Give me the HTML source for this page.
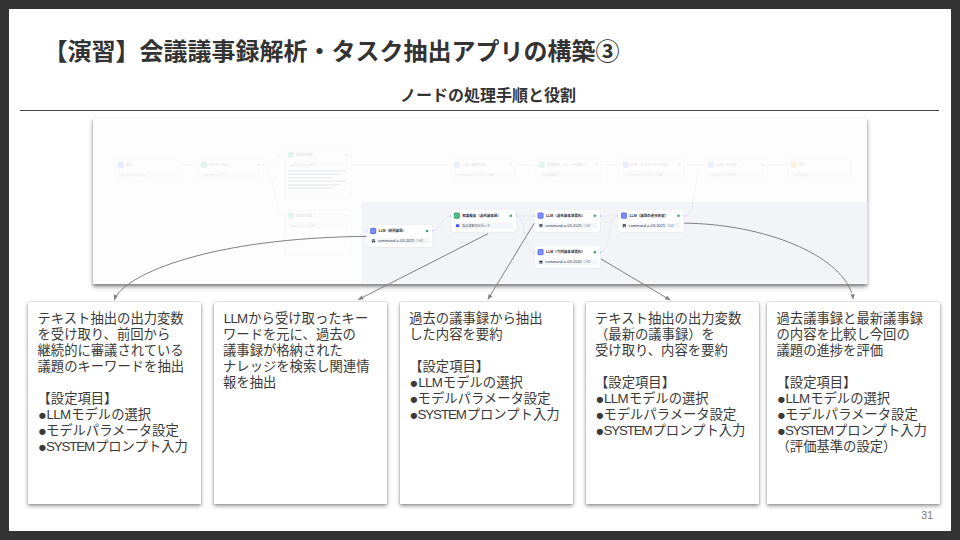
<!DOCTYPE html>
<html lang="ja">
<head>
<meta charset="utf-8">
<title>【演習】会議議事録解析・タスク抽出アプリの構築③</title>
<style>
html,body{margin:0;padding:0;}
body{width:960px;height:540px;background:#333333;position:relative;overflow:hidden;
  font-family:"Liberation Sans","Noto Sans CJK JP",sans-serif;color:#333;}
#slide{position:absolute;left:9px;top:9px;width:942px;height:522px;background:#fff;}
#title{position:absolute;left:43.5px;top:34px;height:36px;line-height:36px;font-size:24px;font-weight:bold;white-space:nowrap;color:#333;}
#sub{position:absolute;left:400px;top:84px;height:24px;line-height:24px;font-size:16px;font-weight:bold;white-space:nowrap;color:#333;}
#rule{position:absolute;left:20px;top:109.8px;width:919px;height:1.2px;background:#444;}
#shot{position:absolute;left:92.8px;top:117.6px;width:774.3px;height:166.3px;background:#fdfdfd;box-shadow:0 2px 2.5px rgba(0,0,0,.3),0 3px 5px rgba(0,0,0,.3);}
.card{position:absolute;top:301.5px;width:173.3px;height:202.4px;background:#fff;box-shadow:0 2px 4px rgba(0,0,0,.42), 0 0 1px rgba(0,0,0,.35);box-sizing:border-box;
  padding:9.5px 0 0 9.8px;font-size:13.33px;line-height:16px;color:#3a3a3a;white-space:pre;}
.card .b{display:inline-block;width:8.4px;font-size:14.67px;line-height:0;position:relative;top:1px;left:0.4px;}
.card .l1,.card .l2{display:inline-block;font-size:13.33px;white-space:nowrap;}
.card .l1{width:24.6px;padding-left:.7px;letter-spacing:-.7px;}
.card .l2{width:49.1px;letter-spacing:-1.12px;}
#pg{position:absolute;left:915px;top:507px;width:18px;text-align:right;font-size:10.5px;line-height:16px;color:#777;}
#arrows{position:absolute;left:0;top:0;}
</style>
</head>
<body>
<div id="slide"></div>
<div id="title">【演習】会議議事録解析・タスク抽出アプリの構築③</div>
<div id="sub">ノードの処理手順と役割</div>
<div id="rule"></div>
<div id="shot"></div>
<div class="card" style="left:27.7px">テキスト抽出の出力変数
を受け取り、前回から
継続的に審議されている
議題のキーワードを抽出

【設定項目】
<span class="b">●</span><span class="l1">LLM</span>モデルの選択
<span class="b">●</span>モデルパラメータ設定
<span class="b">●</span><span class="l2">SYSTEM</span>プロンプト入力</div>
<div class="card" style="left:214.1px;width:172.6px;padding-left:8.9px"><span class="l1">LLM</span>から受け取ったキー
ワードを元に、過去の
議事録が格納された
ナレッジを検索し関連情
報を抽出</div>
<div class="card" style="left:400px;padding-left:9.2px">過去の議事録から抽出
した内容を要約

【設定項目】
<span class="b">●</span><span class="l1">LLM</span>モデルの選択
<span class="b">●</span>モデルパラメータ設定
<span class="b">●</span><span class="l2">SYSTEM</span>プロンプト入力</div>
<div class="card" style="left:586px;padding-left:9.0px">テキスト抽出の出力変数
（最新の議事録）を
受け取り、内容を要約

【設定項目】
<span class="b">●</span><span class="l1">LLM</span>モデルの選択
<span class="b">●</span>モデルパラメータ設定
<span class="b">●</span><span class="l2">SYSTEM</span>プロンプト入力</div>
<div class="card" style="left:766.7px">過去議事録と最新議事録
の内容を比較し今回の
議題の進捗を評価

【設定項目】
<span class="b">●</span><span class="l1">LLM</span>モデルの選択
<span class="b">●</span>モデルパラメータ設定
<span class="b">●</span><span class="l2">SYSTEM</span>プロンプト入力
（評価基準の設定）</div>
<div id="pg">31</div>
<svg id="arrows" width="960" height="540" viewBox="0 0 960 540">
<g id="wf">
<rect x="361.5" y="202" width="506" height="81" fill="#f2f4f7"/>
<g opacity="0.11">
<rect x="114.8" y="159" width="63" height="22" rx="2" fill="#fff" stroke="#b8bfcc" stroke-width="0.4"/>
<rect x="117.6" y="161.8" width="6" height="6" rx="1.5" fill="#2970ff"/>
<text x="125.8" y="166" font-size="3.3" font-weight="bold" fill="#1d2939" font-family="Liberation Sans, Noto Sans CJK JP, sans-serif">開始</text>
<rect x="117.6" y="171.6" width="57.4" height="5.8" rx="1" fill="#e4e7ec"/>
<text x="120.8" y="175.7" font-size="3.1" fill="#344054" font-family="Liberation Sans, Noto Sans CJK JP, sans-serif">txt_minutes  String</text>
<rect x="198" y="159" width="65" height="23.5" rx="2" fill="#fff" stroke="#b8bfcc" stroke-width="0.4"/>
<rect x="200.8" y="161.8" width="6" height="6" rx="1.5" fill="#12b76a"/>
<text x="209" y="166" font-size="3.3" font-weight="bold" fill="#1d2939" font-family="Liberation Sans, Noto Sans CJK JP, sans-serif">テキスト抽出</text>
<circle cx="258.5" cy="164.8" r="1.2" fill="#17b26a"/>
<rect x="200.8" y="171.6" width="59.4" height="5.8" rx="1" fill="#e4e7ec"/>
<text x="204" y="175.7" font-size="3.1" fill="#344054" font-family="Liberation Sans, Noto Sans CJK JP, sans-serif">txt_minutes  File</text>
<rect x="285" y="149" width="66" height="49.5" rx="2" fill="#fff" stroke="#b8bfcc" stroke-width="0.4"/>
<rect x="287.8" y="151.8" width="6" height="6" rx="1.5" fill="#12b76a"/>
<text x="296" y="156" font-size="3.3" font-weight="bold" fill="#1d2939" font-family="Liberation Sans, Noto Sans CJK JP, sans-serif">質問分類器</text>
<circle cx="346.5" cy="154.8" r="1.2" fill="#17b26a"/>
<rect x="287.8" y="161.6" width="60.4" height="5.8" rx="1" fill="#e4e7ec"/>
<text x="291" y="165.7" font-size="3.1" fill="#344054" font-family="Liberation Sans, Noto Sans CJK JP, sans-serif">gpt-4o-mini CHAT</text>
<rect x="285" y="210" width="66" height="45" rx="2" fill="#fff" stroke="#b8bfcc" stroke-width="0.4"/>
<rect x="287.8" y="212.8" width="6" height="6" rx="1.5" fill="#12b76a"/>
<text x="296" y="217" font-size="3.3" font-weight="bold" fill="#1d2939" font-family="Liberation Sans, Noto Sans CJK JP, sans-serif">質問分類器 2</text>
<circle cx="346.5" cy="215.8" r="1.2" fill="#17b26a"/>
<rect x="287.8" y="222.6" width="60.4" height="5.8" rx="1" fill="#e4e7ec"/>
<text x="291" y="226.7" font-size="3.1" fill="#344054" font-family="Liberation Sans, Noto Sans CJK JP, sans-serif">gpt-4o-mini CHAT</text>
<rect x="451" y="159" width="64" height="22" rx="2" fill="#fff" stroke="#b8bfcc" stroke-width="0.4"/>
<rect x="453.8" y="161.8" width="6" height="6" rx="1.5" fill="#6172f3"/>
<text x="462" y="166" font-size="3.3" font-weight="bold" fill="#1d2939" font-family="Liberation Sans, Noto Sans CJK JP, sans-serif">LLM（議題抽出）</text>
<circle cx="510.5" cy="164.8" r="1.2" fill="#17b26a"/>
<rect x="453.8" y="171.6" width="58.4" height="5.8" rx="1" fill="#e4e7ec"/>
<text x="457" y="175.7" font-size="3.1" fill="#344054" font-family="Liberation Sans, Noto Sans CJK JP, sans-serif">command-a-03-2025 CHAT</text>
<rect x="536" y="159" width="65" height="22" rx="2" fill="#fff" stroke="#b8bfcc" stroke-width="0.4"/>
<rect x="538.8" y="161.8" width="6" height="6" rx="1.5" fill="#12b76a"/>
<text x="547" y="166" font-size="3.3" font-weight="bold" fill="#1d2939" font-family="Liberation Sans, Noto Sans CJK JP, sans-serif">知識検索（ナレッジ検索）</text>
<circle cx="596.5" cy="164.8" r="1.2" fill="#17b26a"/>
<rect x="538.8" y="171.6" width="59.4" height="5.8" rx="1" fill="#e4e7ec"/>
<text x="542" y="175.7" font-size="3.1" fill="#344054" font-family="Liberation Sans, Noto Sans CJK JP, sans-serif">製品議事録</text>
<rect x="619.6" y="159" width="64.5" height="22" rx="2" fill="#fff" stroke="#b8bfcc" stroke-width="0.4"/>
<rect x="622.4" y="161.8" width="6" height="6" rx="1.5" fill="#6172f3"/>
<text x="630.6" y="166" font-size="3.3" font-weight="bold" fill="#1d2939" font-family="Liberation Sans, Noto Sans CJK JP, sans-serif">LLM（タスクリスト生成）</text>
<circle cx="679.6" cy="164.8" r="1.2" fill="#17b26a"/>
<rect x="622.4" y="171.6" width="58.9" height="5.8" rx="1" fill="#e4e7ec"/>
<text x="625.6" y="175.7" font-size="3.1" fill="#344054" font-family="Liberation Sans, Noto Sans CJK JP, sans-serif">command-a-03-2025 CHAT</text>
<rect x="705" y="159" width="62.5" height="22" rx="2" fill="#fff" stroke="#b8bfcc" stroke-width="0.4"/>
<rect x="707.8" y="161.8" width="6" height="6" rx="1.5" fill="#6172f3"/>
<text x="716" y="166" font-size="3.3" font-weight="bold" fill="#1d2939" font-family="Liberation Sans, Noto Sans CJK JP, sans-serif">LLM（まとめ）</text>
<circle cx="763.0" cy="164.8" r="1.2" fill="#17b26a"/>
<rect x="707.8" y="171.6" width="56.9" height="5.8" rx="1" fill="#e4e7ec"/>
<text x="711" y="175.7" font-size="3.1" fill="#344054" font-family="Liberation Sans, Noto Sans CJK JP, sans-serif">gpt-4o-mini CHAT</text>
<rect x="788" y="159" width="63" height="22" rx="2" fill="#fff" stroke="#b8bfcc" stroke-width="0.4"/>
<rect x="790.8" y="161.8" width="6" height="6" rx="1.5" fill="#f79009"/>
<text x="799" y="166" font-size="3.3" font-weight="bold" fill="#1d2939" font-family="Liberation Sans, Noto Sans CJK JP, sans-serif">終了</text>
<rect x="790.8" y="171.6" width="57.4" height="5.8" rx="1" fill="#e4e7ec"/>
<text x="794" y="175.7" font-size="3.1" fill="#344054" font-family="Liberation Sans, Noto Sans CJK JP, sans-serif">text  String</text>
<rect x="288" y="170.0" width="58" height="1.4" fill="#667085"/>
<rect x="288" y="173.5" width="52" height="1.4" fill="#667085"/>
<rect x="288" y="177.0" width="46" height="1.4" fill="#667085"/>
<rect x="288" y="180.5" width="58" height="1.4" fill="#667085"/>
<rect x="288" y="184.0" width="52" height="1.4" fill="#667085"/>
<rect x="288" y="187.5" width="46" height="1.4" fill="#667085"/>
<g fill="none" stroke="#98a2b3" stroke-width="0.6">
<path d="M694 197 C697 180 697 165 705 165"/>
<path d="M177.8 165 H198"/><path d="M263 165 C275 165 273 155 285 155"/><path d="M263 165 C275 165 273 216 285 216"/>
<path d="M351 165 H451"/><path d="M515 165 H536"/><path d="M601 165 H619.6"/><path d="M684 165 H705"/><path d="M767.5 165 H788"/>
</g>
</g>
<g fill="none" stroke="#dfe2e9" stroke-width="0.7">
<path d="M432.3 231 C442 231 441 216 451 216"/>
<path d="M516 216 H534.5"/>
<path d="M516 216 C527 216 523 252.5 534.5 252.5"/>
<path d="M600.2 216 H618"/>
<path d="M600.2 252.5 C611 252.5 607 216 618 216"/>
<path d="M683.8 216 C693 216 692 204 694 197" />
</g>
<g stroke="#2970ff" stroke-width="0.5" opacity="0.5">
<path d="M432.6 229.9 V232.1"/>
<path d="M450.6 214.9 V217.1"/>
<path d="M516.4 214.9 V217.1"/>
<path d="M534.2 214.9 V217.1"/>
<path d="M534.2 251.4 V253.6"/>
<path d="M600.6 214.9 V217.1"/>
<path d="M600.6 251.4 V253.6"/>
<path d="M617.8 214.9 V217.1"/>
<path d="M684.1 214.9 V217.1"/>
<path d="M366.9 229.9 V232.1"/>
</g>
<rect x="366.90000000000003" y="224.8" width="65.8" height="23" rx="2.4" fill="#101828" opacity="0.05"/>
<rect x="367.3" y="225" width="65" height="22" rx="2.2" fill="#ffffff"/>
<rect x="370.1" y="227.8" width="6.1" height="6.1" rx="1.6" fill="#6172f3"/>
<rect x="371.8" y="229.5" width="2.7" height="2.7" rx="0.7" fill="none" stroke="#ffffff" stroke-width="0.5" opacity="0.75"/>
<text x="378.6" y="232.05" font-size="3.4" font-weight="bold" fill="#1d2939" textLength="27" lengthAdjust="spacingAndGlyphs" font-family="Liberation Sans, Noto Sans CJK JP, sans-serif">LLM（前回議題）</text>
<circle cx="427.1" cy="230.9" r="1.25" fill="#3f9e6e"/>
<rect x="370.1" y="238" width="59.2" height="5.9" rx="1" fill="#f5f6f9"/>
<path d="M372.0 239.4 h3 v1.2 h-3 z M371.7 241 h3.6 v0.5 h-3.6 z M372.2 241.6 h0.9 v0.9 h-0.9 z M373.90000000000003 241.6 h0.9 v0.9 h-0.9 z" fill="#1d2939"/>
<text x="377.90000000000003" y="242.1" font-size="3.6" fill="#344054" textLength="36.5" lengthAdjust="spacingAndGlyphs" font-family="Liberation Sans, Noto Sans CJK JP, sans-serif">command-a-03-2025</text>
<text x="416.1" y="241.9" font-size="2.6" fill="#98a2b3" textLength="7.5" lengthAdjust="spacingAndGlyphs" font-family="Liberation Sans, Noto Sans CJK JP, sans-serif">CHAT</text>
<rect x="450.6" y="209.60000000000002" width="65.8" height="23" rx="2.4" fill="#101828" opacity="0.05"/>
<rect x="451" y="209.8" width="65" height="22" rx="2.2" fill="#ffffff"/>
<rect x="453.8" y="212.60000000000002" width="6.1" height="6.1" rx="1.6" fill="#2fa96b"/>
<rect x="455.5" y="214.3" width="2.7" height="2.7" rx="0.7" fill="none" stroke="#ffffff" stroke-width="0.5" opacity="0.75"/>
<text x="462.3" y="216.85000000000002" font-size="3.4" font-weight="bold" fill="#1d2939" textLength="38.5" lengthAdjust="spacingAndGlyphs" font-family="Liberation Sans, Noto Sans CJK JP, sans-serif">知識検索（過去議事録）</text>
<circle cx="510.8" cy="215.70000000000002" r="1.25" fill="#3f9e6e"/>
<rect x="453.8" y="222.8" width="59.2" height="5.9" rx="1" fill="#f5f6f9"/>
<rect x="456" y="224.3" width="3.2" height="2.8" rx="0.5" fill="#444ce7"/>
<text x="462" y="226.9" font-size="3.3" fill="#667085" textLength="28" lengthAdjust="spacingAndGlyphs" font-family="Liberation Sans, Noto Sans CJK JP, sans-serif">製品議事録会社メモ</text>
<rect x="534.3000000000001" y="209.60000000000002" width="66.2" height="23" rx="2.4" fill="#101828" opacity="0.05"/>
<rect x="534.7" y="209.8" width="65.4" height="22" rx="2.2" fill="#ffffff"/>
<rect x="537.5" y="212.60000000000002" width="6.1" height="6.1" rx="1.6" fill="#6172f3"/>
<rect x="539.2" y="214.3" width="2.7" height="2.7" rx="0.7" fill="none" stroke="#ffffff" stroke-width="0.5" opacity="0.75"/>
<text x="546.0" y="216.85000000000002" font-size="3.4" font-weight="bold" fill="#1d2939" textLength="39" lengthAdjust="spacingAndGlyphs" font-family="Liberation Sans, Noto Sans CJK JP, sans-serif">LLM（過去議事録要約）</text>
<circle cx="594.9" cy="215.70000000000002" r="1.25" fill="#3f9e6e"/>
<rect x="537.5" y="222.8" width="59.60000000000001" height="5.9" rx="1" fill="#f5f6f9"/>
<path d="M539.4000000000001 224.20000000000002 h3 v1.2 h-3 z M539.1 225.8 h3.6 v0.5 h-3.6 z M539.6 226.4 h0.9 v0.9 h-0.9 z M541.3000000000001 226.4 h0.9 v0.9 h-0.9 z" fill="#1d2939"/>
<text x="545.3000000000001" y="226.9" font-size="3.6" fill="#344054" textLength="36.5" lengthAdjust="spacingAndGlyphs" font-family="Liberation Sans, Noto Sans CJK JP, sans-serif">command-a-03-2025</text>
<text x="583.5" y="226.70000000000002" font-size="2.6" fill="#98a2b3" textLength="7.5" lengthAdjust="spacingAndGlyphs" font-family="Liberation Sans, Noto Sans CJK JP, sans-serif">CHAT</text>
<rect x="534.3000000000001" y="246.10000000000002" width="66.2" height="23" rx="2.4" fill="#101828" opacity="0.05"/>
<rect x="534.7" y="246.3" width="65.4" height="22" rx="2.2" fill="#ffffff"/>
<rect x="537.5" y="249.10000000000002" width="6.1" height="6.1" rx="1.6" fill="#6172f3"/>
<rect x="539.2" y="250.8" width="2.7" height="2.7" rx="0.7" fill="none" stroke="#ffffff" stroke-width="0.5" opacity="0.75"/>
<text x="546.0" y="253.35000000000002" font-size="3.4" font-weight="bold" fill="#1d2939" textLength="39" lengthAdjust="spacingAndGlyphs" font-family="Liberation Sans, Noto Sans CJK JP, sans-serif">LLM（今回議事録要約）</text>
<circle cx="594.9" cy="252.20000000000002" r="1.25" fill="#3f9e6e"/>
<rect x="537.5" y="259.3" width="59.60000000000001" height="5.9" rx="1" fill="#f5f6f9"/>
<path d="M539.4000000000001 260.7 h3 v1.2 h-3 z M539.1 262.3 h3.6 v0.5 h-3.6 z M539.6 262.90000000000003 h0.9 v0.9 h-0.9 z M541.3000000000001 262.90000000000003 h0.9 v0.9 h-0.9 z" fill="#1d2939"/>
<text x="545.3000000000001" y="263.40000000000003" font-size="3.6" fill="#344054" textLength="36.5" lengthAdjust="spacingAndGlyphs" font-family="Liberation Sans, Noto Sans CJK JP, sans-serif">command-a-03-2025</text>
<text x="583.5" y="263.2" font-size="2.6" fill="#98a2b3" textLength="7.5" lengthAdjust="spacingAndGlyphs" font-family="Liberation Sans, Noto Sans CJK JP, sans-serif">CHAT</text>
<rect x="617.7" y="209.60000000000002" width="66.39999999999999" height="23" rx="2.4" fill="#101828" opacity="0.05"/>
<rect x="618.1" y="209.8" width="65.6" height="22" rx="2.2" fill="#ffffff"/>
<rect x="620.9" y="212.60000000000002" width="6.1" height="6.1" rx="1.6" fill="#6172f3"/>
<rect x="622.6" y="214.3" width="2.7" height="2.7" rx="0.7" fill="none" stroke="#ffffff" stroke-width="0.5" opacity="0.75"/>
<text x="629.4" y="216.85000000000002" font-size="3.4" font-weight="bold" fill="#1d2939" textLength="39" lengthAdjust="spacingAndGlyphs" font-family="Liberation Sans, Noto Sans CJK JP, sans-serif">LLM（議題の進捗判定）</text>
<circle cx="678.5" cy="215.70000000000002" r="1.25" fill="#3f9e6e"/>
<rect x="620.9" y="222.8" width="59.8" height="5.9" rx="1" fill="#f5f6f9"/>
<path d="M622.8000000000001 224.20000000000002 h3 v1.2 h-3 z M622.5 225.8 h3.6 v0.5 h-3.6 z M623.0 226.4 h0.9 v0.9 h-0.9 z M624.7 226.4 h0.9 v0.9 h-0.9 z" fill="#1d2939"/>
<text x="628.7" y="226.9" font-size="3.6" fill="#344054" textLength="36.5" lengthAdjust="spacingAndGlyphs" font-family="Liberation Sans, Noto Sans CJK JP, sans-serif">command-a-03-2025</text>
<text x="666.9" y="226.70000000000002" font-size="2.6" fill="#98a2b3" textLength="7.5" lengthAdjust="spacingAndGlyphs" font-family="Liberation Sans, Noto Sans CJK JP, sans-serif">CHAT</text>
</g>
<g id="ar">
<g fill="none" stroke="#808080" stroke-width="1">
<path d="M366.40 236.35 C210.35 237.99 128.27 273.48 115.54 297.44"/>
<path d="M488.1 233.6 L361.51 297.96"/>
<path d="M534.2 223.3 L489.84 296.16"/>
<path d="M600.9 258.9 L667.13 298.20"/>
<path d="M684.20 223.10 C766.45 224.32 838.72 255.14 851.58 292.81"/>
</g>
<path d="M114.20 300.75 L113.70 294.60 L117.75 295.71 Z" fill="#808080"/>
<path d="M357.50 300.00 L361.72 295.50 L363.62 299.24 Z" fill="#808080"/>
<path d="M487.50 300.00 L488.72 293.95 L492.31 296.14 Z" fill="#808080"/>
<path d="M671.00 300.50 L664.94 299.35 L667.08 295.73 Z" fill="#808080"/>
<path d="M853.30 300.10 L850.46 294.62 L854.62 294.08 Z" fill="#808080"/>
</g>
</svg>
</body>
</html>
